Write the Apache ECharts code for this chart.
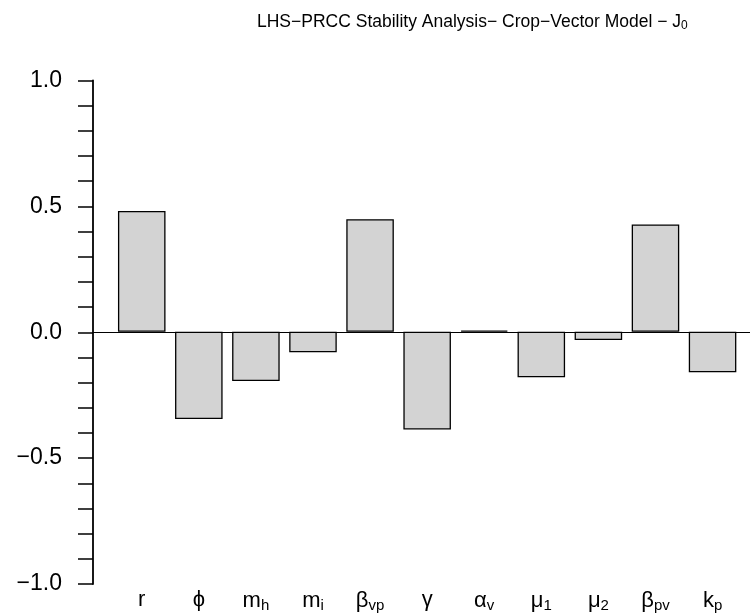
<!DOCTYPE html>
<html>
<head>
<meta charset="utf-8">
<script src="https://cdn.jsdelivr.net/npm/echarts@6/dist/echarts.min.js"></script>
<style>html,body{margin:0;padding:0;background:#fff;}#c{width:750px;height:613px;}</style>
</head>
<body>
<div id="c"></div>
<script>
// Data
var catBase = ['r', 'ϕ', 'm', 'm', 'β', 'γ', 'α', 'μ', 'μ', 'β', 'k'];
var catSub  = ['',  '',  'h', 'i', 'vp', '',  'v', '1', '2', 'pv', 'p'];
var prcc    = [0.481, -0.347, -0.196, -0.082, 0.448, -0.389, 0.005, -0.181, -0.033, 0.427, -0.161];
var yTickLabels = [-1.0, -0.5, 0.0, 0.5, 1.0];

var FONT = '"Liberation Sans", Arial, Helvetica, sans-serif';
var cats = catBase.map(function (b, i) { return b + '|' + catSub[i]; });

var chart = echarts.init(document.getElementById('c'), null, { renderer: 'canvas' });
chart.setOption({
  animation: false,
  backgroundColor: '#ffffff',
  title: {
    text: '{a|LHS−PRCC Stability Analysis− Crop−Vector Model − J}{s|0}',
    left: 252, top: 7,
    textStyle: {
      fontWeight: 'normal',
      rich: {
        a: { fontFamily: FONT, fontSize: 17.5, fontWeight: 'normal', color: '#000' },
        s: { fontFamily: FONT, fontSize: 12, fontWeight: 'normal', color: '#000', verticalAlign: 'bottom', padding: [8, 0, 0, 0] }
      }
    }
  },
  grid: [
    { left: 93, right: -11, top: 80.5, bottom: 29 },
    { left: 113.2, right: 8.9, top: 80.5, bottom: 29 }
  ],
  xAxis: [
    { gridIndex: 0, type: 'value', min: 0, max: 1,
      axisLine: { show: true, onZero: true, lineStyle: { color: '#000', width: 1 } },
      axisTick: { show: false }, axisLabel: { show: false }, splitLine: { show: false } },
    { gridIndex: 1, type: 'category', data: cats, position: 'bottom',
      axisLine: { show: false, onZero: false }, axisTick: { show: false }, splitLine: { show: false },
      axisLabel: {
        interval: 0, margin: 6,
        formatter: function (v) {
          var p = v.split('|');
          return p[1] ? '{b|' + p[0] + '}{s|' + p[1] + '}' : '{b|' + p[0] + '}';
        },
        rich: {
          b: { fontFamily: FONT, fontSize: 22, color: '#000' },
          s: { fontFamily: FONT, fontSize: 15, color: '#000', verticalAlign: 'bottom', padding: [9, 0, 0, 0] }
        }
      } }
  ],
  yAxis: [
    { gridIndex: 0, type: 'value', min: -1, max: 1, interval: 0.1,
      axisLine: { show: true, lineStyle: { color: '#000', width: 1.8 } },
      axisTick: { show: true, inside: false, length: 15, lineStyle: { color: '#000', width: 1.5 } },
      splitLine: { show: false },
      axisLabel: {
        margin: 31, color: '#000', fontFamily: FONT, fontSize: 23,
        formatter: function (v) {
          for (var i = 0; i < yTickLabels.length; i++) {
            if (Math.abs(v - yTickLabels[i]) < 1e-6) {
              var s = Math.abs(yTickLabels[i]).toFixed(1);
              return (yTickLabels[i] < -1e-9 ? '−' : '') + s;
            }
          }
          return '';
        }
      } },
    { gridIndex: 1, type: 'value', min: -1, max: 1, show: false, splitLine: { show: false } }
  ],
  series: [
    { type: 'bar', xAxisIndex: 1, yAxisIndex: 1, data: prcc, barCategoryGap: '16.7%',
      itemStyle: { color: '#d3d3d3', borderColor: '#000', borderWidth: 1.3 } }
  ]
});
</script>
</body>
</html>
